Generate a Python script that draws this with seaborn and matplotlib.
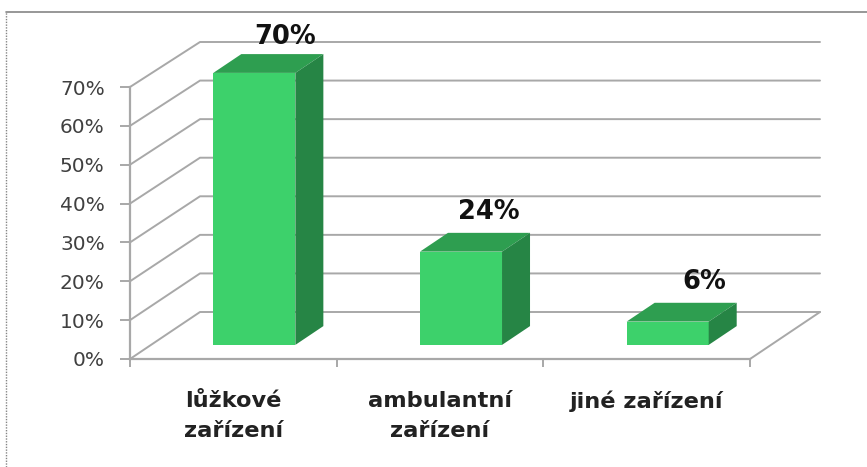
import pandas as pd
import matplotlib
matplotlib.use("Agg")
import matplotlib.pyplot as plt
from matplotlib.lines import Line2D
import seaborn as sns

# ==== Data ====
places = ["lůžkové\nzařízení", "ambulantní\nzařízení", "jiné zařízení"]
shares = [70, 24, 6]
y_ticks = [0, 10, 20, 30, 40, 50, 60, 70]

df = pd.DataFrame({"place": places, "share": shares})

# ==== Look ====
W, H = 867, 467
FRONT = "#3dd16b"
TOP = "#2e9e50"
SIDE = "#268545"
GRID = "#a8a8a8"

sns.set_theme(style="white")
plt.rcParams["font.family"] = ["DejaVu Sans"]

fig = plt.figure(figsize=(W / 100, H / 100), dpi=100, facecolor="white")
# axes box = front edge of the fake 3D floor, in pixels of the reference
ax = fig.add_axes([130 / W, 1 - 359 / H, 620 / W, 272 / H])

sns.barplot(data=df, x="place", y="share", color=FRONT, saturation=1, width=0.397,
            edgecolor="none", linewidth=0, ax=ax, zorder=3)
ax.set_xlim(-0.5, 2.5)
ax.set_ylim(0, 70)
ax.set_xlabel("")
ax.set_ylabel("")
ax.patch.set_alpha(0)

# depth of the floor in data units
DX = 70 / (620 / 3)
DY = 47 / (272 / 70)
BAR_FRONT = 0.30
BAR_BACK = 0.70
BACK_SCALE = 270 / 272

# ==== Walls and floor ====
for v in y_ticks:
    back = v * BACK_SCALE + DY
    ax.plot([-0.5, -0.5 + DX, 2.5 + DX], [v, back, back], color=GRID, lw=1.4, clip_on=False, zorder=1)
ax.plot([2.5, 2.5 + DX], [0, DY], color=GRID, lw=1.4, clip_on=False, zorder=1)

# ==== Bars: move the seaborn bars back, add top and side ====
label_shift = [(31, 36), (28, 40), (37, 40)]
for bar, val, shift in zip(list(ax.patches), shares, label_shift):
    bar.set_x(bar.get_x() + BAR_FRONT * DX)
    bar.set_y(BAR_FRONT * DY)
    bar.set_clip_on(False)
    x0 = bar.get_x()
    x1 = x0 + bar.get_width()
    y0 = bar.get_y()
    y1 = y0 + bar.get_height()
    dx = (BAR_BACK - BAR_FRONT) * DX
    dy = (BAR_BACK - BAR_FRONT) * DY
    ax.fill([x0, x1, x1 + dx, x0 + dx], [y1, y1, y1 + dy, y1 + dy], color=TOP, lw=0, clip_on=False, zorder=3)
    ax.fill([x1, x1 + dx, x1 + dx, x1], [y0, y0 + dy, y1 + dy, y1], color=SIDE, lw=0, clip_on=False, zorder=3)
    ax.annotate(f"{val}%", ((x0 + x1) / 2, y1), xytext=(shift[0] * 0.72, shift[1] * 0.72),
                textcoords="offset points", ha="center", va="center",
                fontsize=18.5, fontweight="bold", color="#111111", zorder=5, annotation_clip=False)

# ==== Axes ====
sns.despine(ax=ax)
for side in ["left", "bottom"]:
    ax.spines[side].set_color(GRID)
    ax.spines[side].set_linewidth(1.6)
    ax.spines[side].set_zorder(2)

ax.set_yticks(y_ticks)
ax.set_yticklabels([f"{v}%" for v in y_ticks])
ax.tick_params(axis="y", left=True, length=7.2, width=1.4, color=GRID, pad=11, labelsize=14.5, labelcolor="#404040")

ax.set_xticks(range(len(places)))
ax.set_xticklabels(places, linespacing=1.65, fontweight="bold")
ax.set_xticks([-0.5, 0.5, 1.5, 2.5], minor=True)
ax.tick_params(axis="x", which="major", bottom=False, pad=17, labelsize=16.2, labelcolor="#222222")
ax.tick_params(axis="x", which="minor", bottom=True, length=6, width=1.4, color=GRID)

# ==== Outer frame, open at right and bottom ====
fig.add_artist(Line2D([6 / W, 1], [1 - 12 / H, 1 - 12 / H], color="#858585", lw=1.2))
fig.add_artist(Line2D([6 / W, 6 / W], [0, 1 - 12 / H], color="#858585", lw=1.0, ls=(0, (1, 1))))

fig.savefig("out.png", dpi=100)
